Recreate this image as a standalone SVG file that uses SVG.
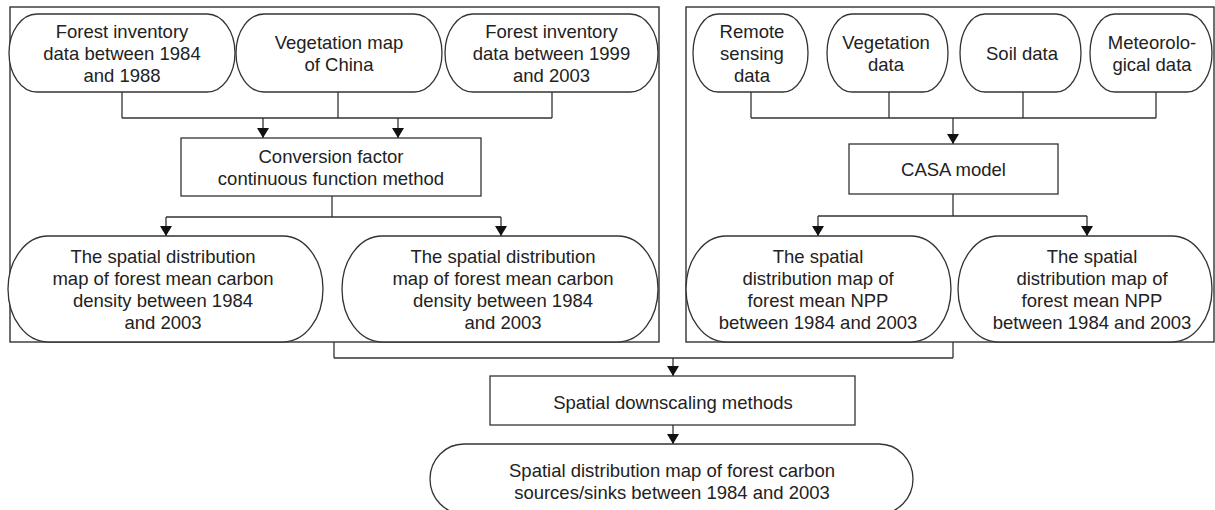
<svg xmlns="http://www.w3.org/2000/svg" width="1215" height="510" viewBox="0 0 1215 510">
<style>
.c{fill:none;stroke:#333;stroke-width:1.4}
.n{fill:#fff;stroke:#333;stroke-width:1.3}
.l{fill:none;stroke:#333;stroke-width:1.3}
text{font-family:"Liberation Sans",Arial,sans-serif;font-size:18.5px;fill:#222;text-anchor:middle}
</style>
<defs>
<marker id="ah" viewBox="0 0 10 12" refX="10" refY="6" markerWidth="10" markerHeight="12" markerUnits="userSpaceOnUse" orient="auto">
<path d="M0,0 L10,6 L0,12 z" fill="#111"/>
</marker>
</defs>
<rect width="1215" height="510" fill="#fff"/>
<g id="containers">
<rect class="c" x="10" y="7" width="649" height="335"/>
<rect class="c" x="686" y="7" width="528" height="335"/>
</g>
<g id="connectors">
<path class="l" d="M122,92 V118 M338,92 V118 M552,92 V118 M122,118 H552"/>
<path class="l" d="M263,118 V138" marker-end="url(#ah)"/>
<path class="l" d="M398,118 V138" marker-end="url(#ah)"/>
<path class="l" d="M332,196 V217 M166,217 H501"/>
<path class="l" d="M166,217 V236" marker-end="url(#ah)"/>
<path class="l" d="M501,217 V236" marker-end="url(#ah)"/>
<path class="l" d="M751,92 V118 M889,92 V118 M1023,92 V118 M1156,92 V118 M751,118 H1156"/>
<path class="l" d="M953,118 V144" marker-end="url(#ah)"/>
<path class="l" d="M953,194 V216 M818,216 H1087"/>
<path class="l" d="M818,216 V236" marker-end="url(#ah)"/>
<path class="l" d="M1087,216 V236" marker-end="url(#ah)"/>
<path class="l" d="M334,342 V358 M953,342 V358 M334,358 H953"/>
<path class="l" d="M673,358 V376" marker-end="url(#ah)"/>
<path class="l" d="M673,425 V444" marker-end="url(#ah)"/>
</g>
<g id="n1">
<rect class="n" x="9" y="14" width="226" height="78" rx="28" ry="39"/>
<text x="122" y="37.5">Forest inventory</text>
<text x="122" y="59.5">data between 1984</text>
<text x="122" y="81.5">and 1988</text>
</g>
<g id="n2">
<rect class="n" x="236" y="14" width="206" height="78" rx="28" ry="39"/>
<text x="339" y="48.5">Vegetation map</text>
<text x="339" y="70.5">of China</text>
</g>
<g id="n3">
<rect class="n" x="445" y="14" width="213" height="78" rx="28" ry="39"/>
<text x="551.5" y="37.5">Forest inventory</text>
<text x="551.5" y="59.5">data between 1999</text>
<text x="551.5" y="81.5">and 2003</text>
</g>
<g id="conv">
<rect class="n" x="181" y="138" width="300" height="58"/>
<text x="331" y="162.5">Conversion factor</text>
<text x="331" y="184.5">continuous function method</text>
</g>
<g id="cd1">
<rect class="n" x="8" y="236" width="315" height="106" rx="40" ry="53"/>
<text x="163" y="262.5">The spatial distribution</text>
<text x="163" y="284.5">map of forest mean carbon</text>
<text x="163" y="306.5">density between 1984</text>
<text x="163" y="328.5">and 2003</text>
</g>
<g id="cd2">
<rect class="n" x="342" y="236" width="316" height="106" rx="40" ry="53"/>
<text x="503" y="262.5">The spatial distribution</text>
<text x="503" y="284.5">map of forest mean carbon</text>
<text x="503" y="306.5">density between 1984</text>
<text x="503" y="328.5">and 2003</text>
</g>
<g id="rs">
<rect class="n" x="693" y="14" width="115" height="78" rx="25" ry="39"/>
<text x="752" y="37.5">Remote</text>
<text x="752" y="59.5">sensing</text>
<text x="752" y="81.5">data</text>
</g>
<g id="veg">
<rect class="n" x="827" y="14" width="121" height="78" rx="25" ry="39"/>
<text x="886" y="48.5">Vegetation</text>
<text x="886" y="70.5">data</text>
</g>
<g id="soil">
<rect class="n" x="960" y="14" width="121" height="78" rx="25" ry="39"/>
<text x="1022" y="59.5">Soil data</text>
</g>
<g id="met">
<rect class="n" x="1090" y="14" width="122" height="78" rx="25" ry="39"/>
<text x="1152" y="48.5">Meteorolo-</text>
<text x="1152" y="70.5">gical data</text>
</g>
<g id="casa">
<rect class="n" x="849" y="144" width="209" height="50"/>
<text x="953.5" y="175.5">CASA model</text>
</g>
<g id="npp1">
<rect class="n" x="686" y="236" width="265" height="106" rx="40" ry="53"/>
<text x="818" y="262.5">The spatial</text>
<text x="818" y="284.5">distribution map of</text>
<text x="818" y="306.5">forest mean NPP</text>
<text x="818" y="328.5">between 1984 and 2003</text>
</g>
<g id="npp2">
<rect class="n" x="958" y="236" width="254" height="106" rx="40" ry="53"/>
<text x="1092" y="262.5">The spatial</text>
<text x="1092" y="284.5">distribution map of</text>
<text x="1092" y="306.5">forest mean NPP</text>
<text x="1092" y="328.5">between 1984 and 2003</text>
</g>
<g id="down">
<rect class="n" x="490" y="376" width="365" height="49"/>
<text x="673" y="409">Spatial downscaling methods</text>
</g>
<g id="final">
<rect class="n" x="430" y="444" width="483" height="70" rx="34" ry="35"/>
<text x="672" y="476.5">Spatial distribution map of forest carbon</text>
<text x="672" y="498.5">sources/sinks between 1984 and 2003</text>
</g>
</svg>
